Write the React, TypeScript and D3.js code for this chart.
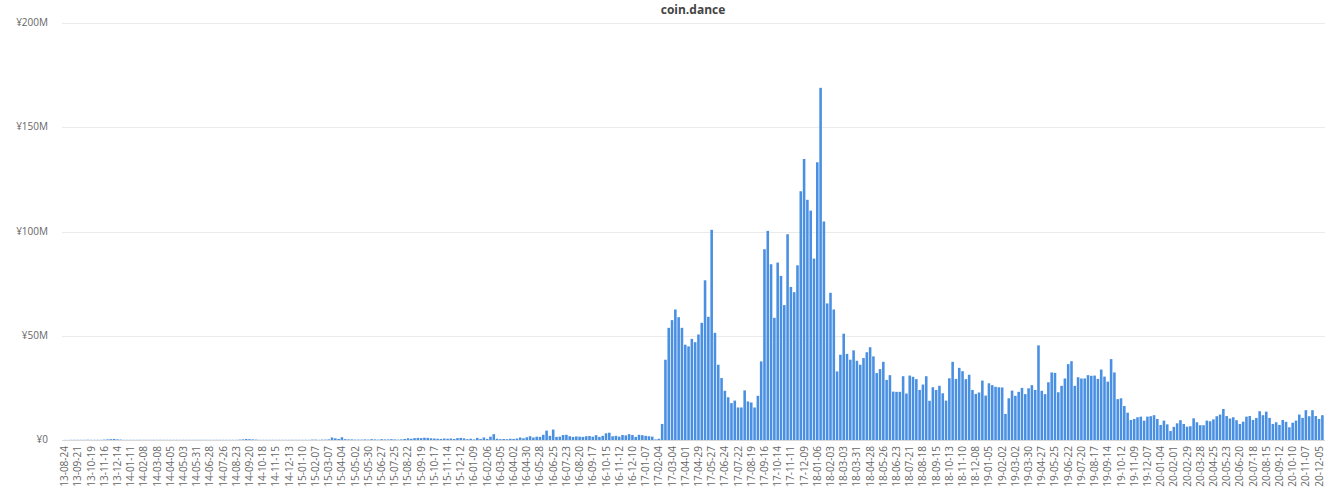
import React, { useEffect, useRef } from 'react';
import * as d3 from 'd3';

// weekly volume, millions of yen, weeks starting 2013-08-24
const START_WEEK = '2013-08-24';

const volA = [
  0.05, 0.05, 0.1, 0.1, 0.1, 0.1, 0.1, 0.15, 0.1, 0.1,
  0.1, 0.1, 0.2, 0.3, 0.4, 0.5, 0.3, 0.2, 0.1, 0.1,
  0.1, 0.1, 0.1, 0.1, 0.1, 0.1, 0.1, 0.1, 0.1, 0.1,
  0.1, 0.1, 0.1, 0.1, 0.1, 0.1, 0.1, 0.1, 0.1, 0.1,
  0.1, 0.1, 0.1, 0.1, 0.1, 0.1, 0.1, 0.1, 0.1, 0.1,
  0.1, 0.1,
];
const volB = [
  0.1, 0.2, 0.3, 0.5, 0.4, 0.3,
  0.2, 0.1, 0.1, 0.1, 0.1, 0.1, 0.1, 0.1, 0.1, 0.1, 0.1, 0.1,
  0.1, 0.1, 0.1, 0.1, 0.1, 0.2, 0.2, 0.1, 0.2, 0.2,
  0.3, 1.2, 0.8, 0.5, 1.3, 0.4, 0.3, 0.3, 0.2, 0.2,
  0.2, 0.3, 0.2, 0.4, 0.3, 0.2, 0.4, 0.3, 0.3, 0.4,
  0.3, 0.2, 0.3, 0.5,
];
const volC = [
  0.8, 0.6, 0.9, 1.0, 0.9, 1.1, 1.0, 0.8, 0.7, 0.6,
  0.5, 0.7, 0.6, 0.7, 0.5, 0.9, 1.0, 0.8, 0.4, 0.6,
  0.3, 1.0, 0.5, 1.2, 0.5, 1.6, 2.8, 0.6, 0.4, 0.5,
  0.4, 0.6, 0.5, 0.7, 1.2, 0.8, 1.3, 1.8, 1.2, 1.6,
  1.5, 2.5, 4.5, 2.0, 5.0, 1.5, 1.6, 2.4, 2.5, 1.8,
  1.5, 1.7,
];
const volD = [
  1.6, 1.5, 1.8, 1.9, 1.6, 2.3, 1.5, 2.0, 3.2, 3.5,
  1.8, 2.0, 1.6, 2.4, 2.2, 2.8, 2.4, 1.5, 2.5, 2.3,
  2.0, 1.8, 1.6, 0.3, 0.6, 7.7, 38.5, 53.8, 57.5, 62.6,
  58.9, 53.8, 45.7, 44.9, 48.5, 46.9, 50.6, 56.2, 76.6, 59.1,
  100.8, 51.4, 36.1, 29.7, 23.6, 20.5, 17.7, 18.9, 15.6, 15.6,
  23.8, 18.5,
];
const volE = [
  18.0, 15.6, 21.2, 37.7, 91.5, 100.3, 84.3, 58.6, 85.1, 78.7,
  64.7, 98.7, 73.4, 70.9, 83.8, 119.3, 134.8, 115.2, 110.0, 87.0,
  133.2, 168.9, 104.8, 65.5, 70.6, 62.6, 32.9, 40.9, 51.0, 41.3,
  38.5, 43.0, 38.0, 36.1, 39.3, 42.1, 44.5, 40.1, 32.1, 34.0,
  37.5, 28.8, 31.1, 23.2, 23.1, 23.1, 30.6, 22.3, 30.9, 30.3,
  29.2, 24.0,
];
const volF = [
  26.6, 30.6, 18.8, 25.3, 24.0, 26.0, 22.4, 18.9, 29.6, 37.5,
  29.3, 34.6, 33.0, 29.2, 31.3, 24.0, 22.1, 22.8, 28.5, 21.3,
  27.2, 26.3, 25.5, 25.3, 25.2, 12.5, 20.0, 23.7, 21.2, 23.1,
  25.0, 22.0, 24.8, 26.3, 24.0, 45.4, 23.6, 22.0, 27.7, 32.4,
  32.2, 22.9, 26.0, 29.5, 36.4, 37.8, 26.0, 30.1, 29.5, 29.5,
  31.1, 30.8,
];
const volG = [
  30.9, 29.3, 33.8, 30.4, 28.0, 38.8, 32.4, 19.6, 20.0, 16.3,
  13.1, 9.6, 10.1, 10.9, 11.2, 9.3, 11.2, 11.4, 11.9, 10.1,
  7.2, 9.3, 7.5, 4.3, 6.3, 8.0, 9.5, 7.7, 6.4, 6.6,
  10.4, 8.5, 7.1, 7.1, 9.3, 9.0, 9.9, 11.4, 12.2, 14.9,
  11.5, 10.3, 10.9, 9.5, 7.7, 8.8, 11.2, 11.5, 9.6, 10.6,
  13.8, 11.9,
];
const volH = [
  13.6, 10.6, 7.7, 8.5, 7.2, 9.6, 8.7, 6.1, 8.3, 9.3,
  12.2, 10.6, 14.3, 11.4, 14.3, 11.5, 10.1, 11.9,
];

const yTicks = [0, 50, 100, 150, 200];

const volumes = [...volA, ...volB, ...volC, ...volD, ...volE, ...volF, ...volG, ...volH];

export default function App() {
  const svgRef = useRef<SVGSVGElement>(null);

  useEffect(() => {
    if (!svgRef.current) return;
    const svg = d3.select(svgRef.current);
    svg.selectAll('*').remove();

    const width = 1341;
    const height = 490;
    const margin = { top: 23, right: 17, bottom: 50, left: 63 };
    const font = '"Open Sans", "DejaVu Sans", sans-serif';

    const start = d3.utcParse('%Y-%m-%d')(START_WEEK)!;
    const fmt = d3.utcFormat('%y-%m-%d');
    const data = volumes.map((v, i) => ({ week: fmt(d3.utcWeek.offset(start, i)), v }));

    const x = d3.scaleBand()
      .domain(data.map(d => d.week))
      .range([margin.left, width - margin.right])
      .paddingInner(0.22)
      .paddingOuter(0.1);

    const y = d3.scaleLinear()
      .domain([0, 200])
      .range([height - margin.bottom - 0, margin.top]);

    // gridlines
    svg.append('g')
      .selectAll('line')
      .data(yTicks)
      .join('line')
      .attr('x1', margin.left - 1)
      .attr('x2', width - margin.right + 1)
      .attr('y1', d => Math.round(y(d)) + 0.5)
      .attr('y2', d => Math.round(y(d)) + 0.5)
      .attr('stroke', d => (d === 0 ? '#d8d8d8' : '#ebebeb'))
      .attr('stroke-width', 1);

    // y labels
    svg.append('g')
      .selectAll('text')
      .data(yTicks)
      .join('text')
      .attr('x', 48)
      .attr('y', d => y(d))
      .attr('dy', '0.32em')
      .attr('text-anchor', 'end')
      .attr('font-family', font)
      .attr('font-size', 10)
      .attr('fill', '#666')
      .text(d => (d === 0 ? '¥0' : `¥${d}M`));

    // bars
    svg.append('g')
      .selectAll('rect')
      .data(data)
      .join('rect')
      .attr('x', d => x(d.week)!)
      .attr('y', d => y(d.v))
      .attr('width', x.bandwidth())
      .attr('height', d => y(0) - y(d.v))
      .attr('fill', '#4a90e2');

    // x labels every 4 weeks
    const ticks = data.filter((_, i) => i % 4 === 0);
    svg.append('g')
      .selectAll('text')
      .data(ticks)
      .join('text')
      .attr('transform', d => `translate(${x(d.week)! + x.bandwidth() / 2},${height - margin.bottom + 6}) rotate(-90)`)
      .attr('dy', '0.35em')
      .attr('text-anchor', 'end')
      .attr('font-family', font)
      .attr('font-size', 10)
      .attr('fill', '#666')
      .text(d => d.week);

    // title
    svg.append('text')
      .attr('x', 693)
      .attr('y', 14)
      .attr('text-anchor', 'middle')
      .attr('font-family', font)
      .attr('font-size', 12)
      .attr('font-weight', 'bold')
      .attr('fill', '#444')
      .text('coin.dance');
  }, []);

  return (
    <div style={{ position: 'absolute', left: 0, top: 0 }}>
      <svg ref={svgRef} width={1341} height={490} style={{ display: 'block', background: '#fff' }} />
    </div>
  );
}
